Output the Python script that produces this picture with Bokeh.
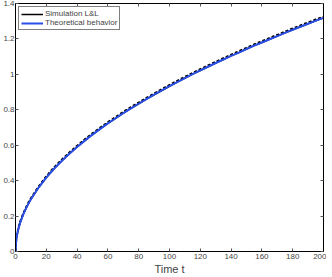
from bokeh.plotting import figure
from bokeh.models import LinearAxis, Range1d, Legend, LegendItem, FixedTicker
from bokeh.embed import file_html
from bokeh.resources import INLINE

# Theoretical behavior
t_theory = [0, 0.5, 1, 2, 3, 5, 7.5, 10, 15, 20, 25, 30, 35, 40, 45, 50, 55, 60, 65, 70,
            75, 80, 85, 90, 95, 100, 105, 110, 115, 120, 125, 130, 135, 140, 145, 150,
            155, 160, 165, 170, 175, 180, 185, 190, 195, 200]
y_theory = [0, 0.066, 0.093, 0.132, 0.162, 0.209, 0.256, 0.295, 0.361, 0.417, 0.467,
            0.511, 0.552, 0.590, 0.626, 0.660, 0.692, 0.723, 0.752, 0.781, 0.808, 0.834,
            0.860, 0.885, 0.909, 0.933, 0.956, 0.979, 1.001, 1.022, 1.043, 1.064, 1.084,
            1.104, 1.123, 1.143, 1.162, 1.180, 1.198, 1.216, 1.234, 1.252, 1.269, 1.286,
            1.303, 1.319]

# Simulation L&L (runs just above the theory)
t_sim = [0, 0.5, 1, 2, 3, 5, 7.5, 10, 15, 20, 25, 30, 35, 40, 45, 50, 55, 60, 65, 70,
         75, 80, 85, 90, 95, 100, 105, 110, 115, 120, 125, 130, 135, 140, 145, 150,
         155, 160, 165, 170, 175, 180, 185, 190, 195, 200]
y_sim = [0, 0.070, 0.097, 0.137, 0.167, 0.214, 0.262, 0.301, 0.367, 0.424, 0.474,
         0.518, 0.559, 0.597, 0.633, 0.667, 0.699, 0.730, 0.759, 0.788, 0.815, 0.841,
         0.867, 0.892, 0.916, 0.940, 0.963, 0.986, 1.008, 1.029, 1.050, 1.071, 1.091,
         1.111, 1.130, 1.150, 1.169, 1.187, 1.205, 1.223, 1.241, 1.259, 1.276, 1.293,
         1.310, 1.326]

x_ticks = [0, 20, 40, 60, 80, 100, 120, 140, 160, 180, 200]
y_ticks = [0, 0.2, 0.4, 0.6, 0.8, 1.0, 1.2, 1.4]
y_tick_labels = ["0", "0.2", "0.4", "0.6", "0.8", "1", "1.2", "1.4"]

FONT = "Liberation Sans"

p = figure(width=326, height=277, output_backend="svg", toolbar_location=None,
           x_range=Range1d(0, 200), y_range=Range1d(0, 1.4),
           min_border_left=2, min_border_right=3, min_border_top=3, min_border_bottom=2)
p.background_fill_color = "white"
p.border_fill_color = "white"
p.grid.visible = False
p.outline_line_color = "black"
p.outline_line_width = 1

def style_axis(ax, labels=True):
    ax.axis_line_color = "black"
    ax.major_tick_in = 3
    ax.major_tick_out = 0
    ax.minor_tick_line_color = None
    ax.major_tick_line_color = "#555555"
    ax.major_label_text_font = FONT
    ax.major_label_text_font_size = "8px"
    ax.major_label_standoff = 2
    if not labels:
        ax.major_label_text_color = None
        ax.major_label_text_font_size = "1px"
        ax.major_label_standoff = 0

xa = p.xaxis[0]
xa.ticker = FixedTicker(ticks=x_ticks)
style_axis(xa)
xa.axis_label = "Time t"
xa.axis_label_text_font = FONT
xa.axis_label_text_font_size = "11px"
xa.axis_label_text_font_style = "normal"
xa.axis_label_standoff = 1

ya = p.yaxis[0]
ya.ticker = FixedTicker(ticks=y_ticks)
ya.major_label_overrides = {v: s for v, s in zip(y_ticks, y_tick_labels)}
style_axis(ya)
ya.major_label_standoff = 1

top = LinearAxis(ticker=FixedTicker(ticks=x_ticks))
style_axis(top, labels=False)
p.add_layout(top, "above")
right = LinearAxis(ticker=FixedTicker(ticks=y_ticks))
style_axis(right, labels=False)
p.add_layout(right, "right")

# solid black key for the legend, hidden beneath the blue theory curve
r_sim_key = p.line(t_theory, y_theory, line_color="black", line_width=1.5)
r_sim = p.line(t_sim, y_sim, line_color="black", line_width=2, line_dash="3 2")
r_th = p.line(t_theory, y_theory, line_color="#2a4fe8", line_width=2)

legend = Legend(items=[LegendItem(label="Simulation L&L", renderers=[r_sim_key]),
                       LegendItem(label="Theoretical behavior", renderers=[r_th])],
                location="top_left")
legend.label_text_font = FONT
legend.label_text_font_size = "8px"
legend.label_height = 8
legend.glyph_height = 8
legend.glyph_width = 22
legend.spacing = 0
legend.padding = 2
legend.margin = 3
legend.label_standoff = 2
legend.border_line_color = "black"
legend.border_line_width = 1
legend.background_fill_alpha = 1
p.add_layout(legend, "center")

open("out.html", "w").write(file_html(p, INLINE))
